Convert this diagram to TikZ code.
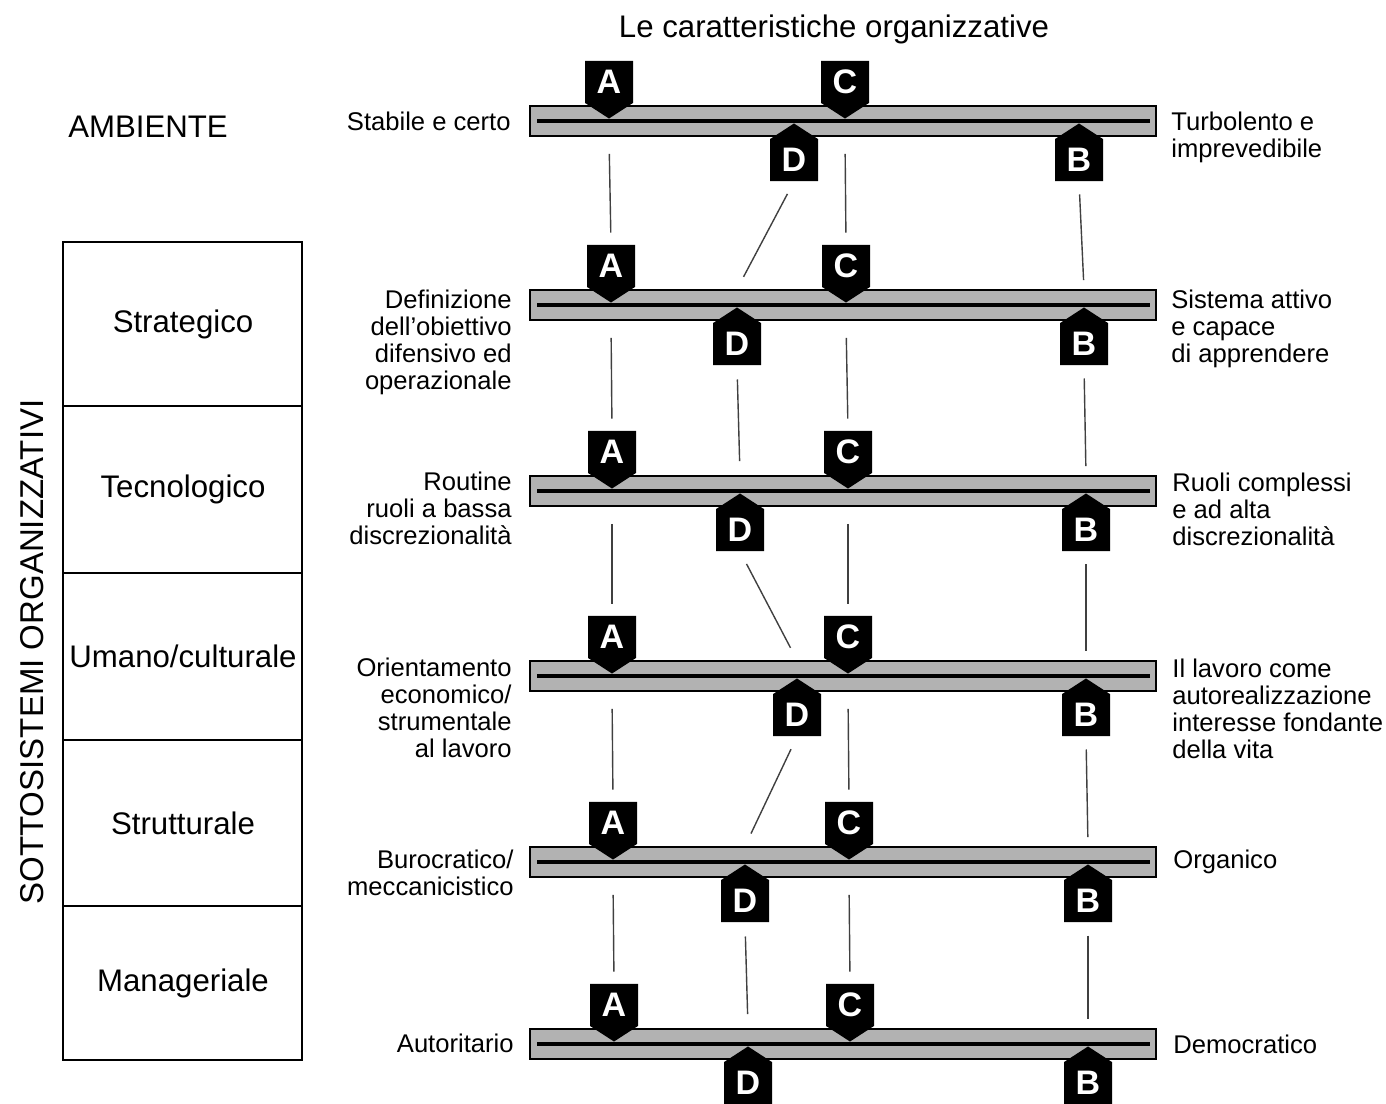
\documentclass[tikz,border=0pt]{standalone}
\usepackage{fontspec}
\setmainfont{Liberation Sans}
\usetikzlibrary{shapes.symbols}

\begin{document}
\begin{tikzpicture}[x=0.5pt,y=-0.5pt,
	lab/.style={inner sep=0pt,font=\fontsize{12.8}{13.5}\selectfont},
	big/.style={inner sep=0pt,font=\fontsize{15.6}{18}\selectfont},
	bar/.style={draw,line width=0.8pt,fill=black!30,minimum width=313pt,minimum height=15pt,inner sep=0pt},
	flag/.style={signal,fill=black,text=white,inner sep=0pt,signal pointer angle=114,
		minimum width=24pt,minimum height=25pt,font=\fontsize{17}{17}\bfseries\selectfont},
	flagdown/.style={flag,signal to=south,anchor=south},
	flagup/.style={flag,signal to=north,anchor=north},
	link/.style={line width=0.7pt,black!75}]
	\useasboundingbox (0,0) rectangle (1386,1103);
	% title and environment
	\node[big] (title) at (834,29) {Le caratteristiche organizzative};
	\node[big] (amb) at (148,127) {AMBIENTE};
	% subsystems
	\node[big,rotate=90,font=\fontsize{16.5}{18}\selectfont] (sub) at (32,652) {SOTTOSISTEMI ORGANIZZATIVI};
	\foreach \t/\b/\txt [count=\i] in {242/406/Strategico,406/573/Tecnologico,573/740/{Umano/culturale},740/906/Strutturale,906/1060/Manageriale}{
		\draw[line width=0.9pt] (63,\t) rectangle (302,\b);
		\node[big] (cell\i) at (183,{(\t+\b)/2}) {\txt};
	}
	% scales
	\foreach \r/\y/\xa/\xc/\xd/\xb in {1/121/609/845/794/1079,2/305/611/846/737/1084,3/491/612/848/740/1086,4/676/612/848/797/1086,5/862/613/849/745/1088,6/1044/614/850/748/1088}{
		\node[bar] (bar\r) at (843,\y) {};
		\draw[line width=1.6pt] ([xshift=4pt]bar\r.west) -- ([xshift=-3.5pt]bar\r.east);
		\node[flagdown] (a\r) at (\xa,\y-2) {A};
		\node[flagdown] (c\r) at (\xc,\y-2) {C};
		\node[flagup] (d\r) at (\xd,\y+2) {D};
		\node[flagup] (b\r) at (\xb,\y+2) {B};
	}
	% links between the scales
	\foreach \r [evaluate=\r as \n using int(\r+1)] in {1,...,5}{
		\draw[link,shorten <=8.5pt,shorten >=6pt] (bar\r.south -| a\r) -- (a\n.north);
		\draw[link,shorten <=8.5pt,shorten >=6pt] (bar\r.south -| c\r) -- (c\n.north);
		\draw[link,shorten <=7pt,shorten >=7pt] (d\r.south) -- (bar\n.north -| d\n);
		\draw[link,shorten <=6.5pt,shorten >=4.5pt] (b\r.south) -- (bar\n.north -| b\n);
	}
	% left ends
	\node[lab,anchor=base east,align=right] (l1) at (511,130) {Stabile e certo};
	\node[lab,anchor=base east,align=right] (l2) at (512,389) {Definizione\\dell'obiettivo\\difensivo ed\\operazionale};
	\node[lab,anchor=base east,align=right] (l3) at (512,544) {Routine\\ruoli a bassa\\discrezionalità};
	\node[lab,anchor=base east,align=right] (l4) at (512,757) {Orientamento\\economico/\\strumentale\\al lavoro};
	\node[lab,anchor=base east,align=right] (l5) at (514,895) {Burocratico/\\meccanicistico};
	\node[lab,anchor=base east,align=right] (l6) at (514,1052) {Autoritario};
	% right ends
	\node[lab,anchor=base west,align=left] (r1) at (1171,157) {Turbolento e\\imprevedibile};
	\node[lab,anchor=base west,align=left] (r2) at (1171,362) {Sistema attivo\\e capace\\di apprendere};
	\node[lab,anchor=base west,align=left] (r3) at (1172,545) {Ruoli complessi\\e ad alta\\discrezionalità};
	\node[lab,anchor=base west,align=left] (r4) at (1172,758) {Il lavoro come\\autorealizzazione\\interesse fondante\\della vita};
	\node[lab,anchor=base west,align=left] (r5) at (1173,868) {Organico};
	\node[lab,anchor=base west,align=left] (r6) at (1173,1053) {Democratico};
\end{tikzpicture}
\end{document}
